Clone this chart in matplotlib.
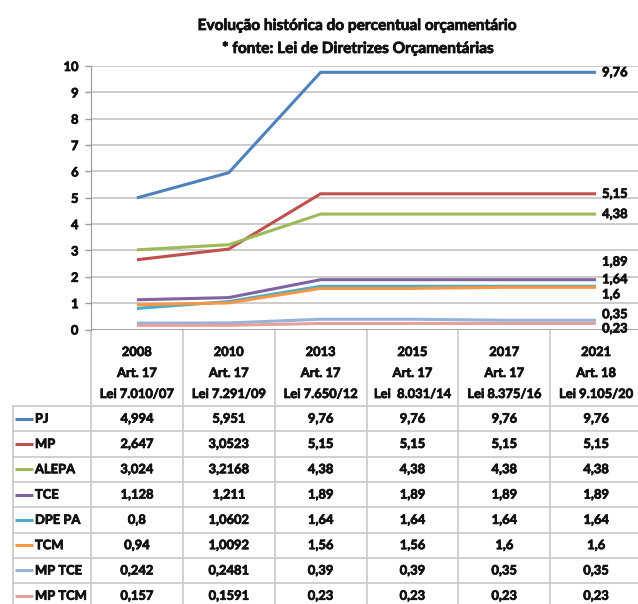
import matplotlib
matplotlib.use('Agg')
import matplotlib.pyplot as plt
import matplotlib.patheffects as pe

plt.rcParams['font.family'] = ['Lato', 'DejaVu Sans']

# ---------------- data ----------------
years = ['2008', '2010', '2013', '2015', '2017', '2021']
articles = ['Art. 17', 'Art. 17', 'Art. 17', 'Art. 17', 'Art. 17', 'Art. 18']
laws = ['Lei 7.010/07', 'Lei 7.291/09', 'Lei 7.650/12', 'Lei  8.031/14', 'Lei 8.375/16', 'Lei 9.105/20']
series_names = ['PJ', 'MP', 'ALEPA', 'TCE', 'DPE PA', 'TCM', 'MP TCE', 'MP TCM']
pj = [4.994, 5.951, 9.76, 9.76, 9.76, 9.76]
mp = [2.647, 3.0523, 5.15, 5.15, 5.15, 5.15]
alepa = [3.024, 3.2168, 4.38, 4.38, 4.38, 4.38]
tce = [1.128, 1.211, 1.89, 1.89, 1.89, 1.89]
dpe_pa = [0.8, 1.0602, 1.64, 1.64, 1.64, 1.64]
tcm = [0.94, 1.0092, 1.56, 1.56, 1.6, 1.6]
mp_tce = [0.242, 0.2481, 0.39, 0.39, 0.35, 0.35]
mp_tcm = [0.157, 0.1591, 0.23, 0.23, 0.23, 0.23]
series_values = [pj, mp, alepa, tce, dpe_pa, tcm, mp_tce, mp_tcm]
y_ticks = [0, 1, 2, 3, 4, 5, 6, 7, 8, 9, 10]

# ---------------- style ----------------
colors = ['#4F81BD', '#C0504D', '#9BBB59', '#8064A2', '#4BACC6', '#F79646', '#95B3D7', '#E6A09E']
label_dy = [0, 0, 0, 18, 7, -7, 6, -5]   # pixel nudges of end labels (layout)
grid_c = '#C8C8C8'
txt_c = '#111111'
FS = 9.3
heavy = [pe.Stroke(linewidth=0.55, foreground=txt_c), pe.Normal()]

W, H = 638, 604
fig = plt.figure(figsize=(W / 100, H / 100), dpi=100)

ax_left, ax_right, ax_top, ax_bot = 91, 642, 66, 329.5
ax = fig.add_axes([ax_left / W, 1 - ax_bot / H, (ax_right - ax_left) / W, (ax_bot - ax_top) / H])
x = list(range(len(years)))
ax.set_xlim(-0.5, len(years) - 0.5)
ax.set_ylim(0, 10)
ax.set_yticks(y_ticks)
ax.set_yticklabels([str(t) for t in y_ticks], fontsize=FS, fontweight='bold', color=txt_c)
for t in ax.get_yticklabels():
    t.set_path_effects(heavy)
ax.set_xticks([])
ax.tick_params(axis='y', length=4, width=1, color='#9a9a9a', pad=5)
for s in ['top', 'right', 'bottom']:
    ax.spines[s].set_visible(False)
ax.spines['left'].set_color('#9a9a9a')
ax.yaxis.grid(True, color=grid_c, lw=1.3)
ax.set_axisbelow(True)
ax.axhline(0, color='#9a9a9a', lw=1.2, zorder=1)

for name, vals, c, dy in zip(series_names, series_values, colors, label_dy):
    ax.plot(x, vals, color=c, lw=2.2, solid_capstyle='butt', zorder=3)
    ax.annotate(f'{vals[-1]:g}'.replace('.', ','), (x[-1], vals[-1]),
                xytext=(6, dy), textcoords='offset pixels',
                ha='left', va='center', fontsize=FS, fontweight='bold',
                color=txt_c, annotation_clip=False, path_effects=heavy)

fig.text(357 / W, 1 - 26 / H, 'Evolução histórica do percentual orçamentário',
         ha='center', va='center', fontsize=11.1, fontweight='bold', color=txt_c,
         path_effects=heavy)
fig.text(358 / W, 1 - 49 / H, '* fonte: Lei de Diretrizes Orçamentárias',
         ha='center', va='center', fontsize=11.1, fontweight='bold', color=txt_c,
         path_effects=heavy)

# ---------------- data table (overlay, pixel coords) ----------------
ov = fig.add_axes([0, 0, 1, 1], zorder=-1)
ov.set_xlim(0, W)
ov.set_ylim(H, 0)
ov.axis('off')

def xpix(v):
    return ax.transData.transform((v, 0))[0]

bounds = [xpix(i - 0.5) for i in range(len(years) + 1)]
centers = [xpix(i) for i in x]
head_bot = 406
row_h = 25.3
tab_left = 13
bottom = head_bot + row_h * len(series_names)

for b in bounds:
    ov.plot([b, b], [ax_bot, bottom], color=grid_c, lw=1.2)
ov.plot([tab_left, tab_left], [head_bot, bottom], color=grid_c, lw=1.2)
for r in range(len(series_names) + 1):
    yy = head_bot + r * row_h
    ov.plot([tab_left, bounds[-1]], [yy, yy], color=grid_c, lw=1.2)

tkw = dict(fontsize=FS, fontweight='bold', color=txt_c, path_effects=heavy)
for cx, yr, art, law in zip(centers, years, articles, laws):
    ov.text(cx, 352, yr, ha='center', va='center', **tkw)
    ov.text(cx, 373, art, ha='center', va='center', **tkw)
    ov.text(cx, 394, law, ha='center', va='center', **tkw)

for r, (name, vals, c) in enumerate(zip(series_names, series_values, colors)):
    cy = head_bot + (r + 0.5) * row_h
    ov.plot([15, 33], [cy, cy], color=c, lw=2.2, solid_capstyle='butt')
    ov.text(35, cy, name, ha='left', va='center', **tkw)
    for cx, v in zip(centers, vals):
        ov.text(cx, cy, f'{v:g}'.replace('.', ','), ha='center', va='center', **tkw)

fig.savefig('out.png', dpi=100, facecolor='white')
